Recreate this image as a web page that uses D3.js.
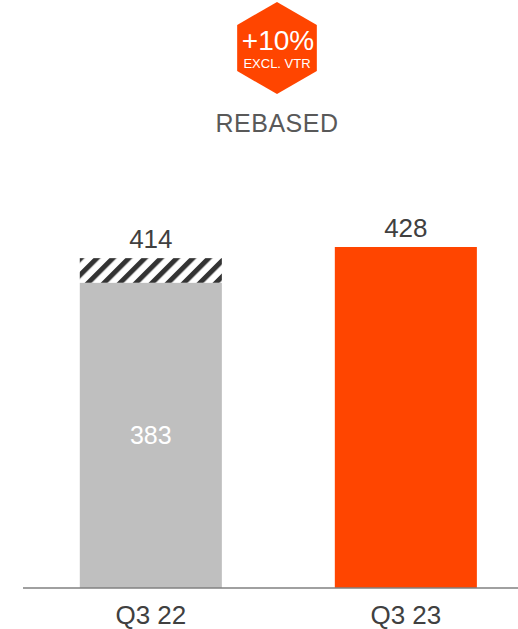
<!DOCTYPE html>
<html>
<head>
<meta charset="utf-8">
<script src="https://cdn.jsdelivr.net/npm/d3@7"></script>
<style>
  html, body { margin: 0; padding: 0; background: #fff; }
  svg { display: block; font-family: "Liberation Sans", Arial, sans-serif; }
</style>
</head>
<body>
<svg id="chart" width="518" height="629"></svg>
<script>
const categories = ["Q3 22", "Q3 23"];
const totals = [414, 428];
const baseValues = [383, null];
const barColors = ["#bfbfbf", "#ff4500"];
const badgeMain = "+10%";
const badgeSub = "EXCL. VTR";
const subtitle = "REBASED";

const svg = d3.select("#chart");
const axisY = 588;

const x = d3.scaleBand()
  .domain(categories)
  .range([23, 518])
  .paddingInner(0.443)
  .paddingOuter(0.192)
  .align(0.58);

const y = d3.scaleLinear().domain([0, 428]).range([axisY, 247]);

// hatch pattern
const defs = svg.append("defs");
const pat = defs.append("pattern")
  .attr("id", "hatch")
  .attr("patternUnits", "userSpaceOnUse")
  .attr("width", 11.3)
  .attr("height", 11.3)
  .attr("patternTransform", "rotate(45)");
pat.append("rect").attr("width", 11.3).attr("height", 11.3).attr("fill", "#fff");
pat.append("rect").attr("x", 0).attr("width", 5).attr("height", 11.3).attr("fill", "#333");

// badge hexagon
const cx = 277, cy = 48, r = 46;
const hexPts = d3.range(6).map(i => {
  const a = Math.PI / 180 * (60 * i - 90);
  return [cx + r * Math.cos(a), cy + r * Math.sin(a)];
});
svg.append("polygon")
  .attr("points", hexPts.map(p => p.join(",")).join(" "))
  .attr("fill", "#ff4500");
svg.append("text")
  .attr("x", cx + 1).attr("y", 50)
  .attr("text-anchor", "middle")
  .attr("font-size", 28)
  .attr("fill", "#fff")
  .text(badgeMain);
svg.append("text")
  .attr("x", cx).attr("y", 68)
  .attr("text-anchor", "middle")
  .attr("font-size", 13)
  .attr("fill", "#fff")
  .text(badgeSub);

svg.append("text")
  .attr("x", cx).attr("y", 132)
  .attr("text-anchor", "middle")
  .attr("font-size", 25)
  .attr("fill", "#595959")
  .attr("letter-spacing", 0.5)
  .text(subtitle);

// bars
categories.forEach((c, i) => {
  const bx = x(c), bw = x.bandwidth();
  const base = baseValues[i];
  if (base != null) {
    svg.append("rect")
      .attr("x", bx).attr("y", y(totals[i]))
      .attr("width", bw).attr("height", y(base) - y(totals[i]))
      .attr("fill", "url(#hatch)");
    svg.append("rect")
      .attr("x", bx).attr("y", y(base))
      .attr("width", bw).attr("height", y(0) - y(base))
      .attr("fill", barColors[i]);
    svg.append("text")
      .attr("x", bx + bw / 2)
      .attr("y", (y(base) + y(0)) / 2 + 8.5)
      .attr("text-anchor", "middle")
      .attr("font-size", 25)
      .attr("fill", "#fff")
      .text(base);
  } else {
    svg.append("rect")
      .attr("x", bx).attr("y", y(totals[i]))
      .attr("width", bw).attr("height", y(0) - y(totals[i]))
      .attr("fill", barColors[i]);
  }
  svg.append("text")
    .attr("x", bx + bw / 2)
    .attr("y", y(totals[i]) - 10.5)
    .attr("text-anchor", "middle")
    .attr("font-size", 26)
    .attr("fill", "#404040")
    .text(totals[i]);
});

// axis
const axis = svg.append("g")
  .attr("transform", `translate(0,${axisY})`)
  .call(d3.axisBottom(x).tickSize(0).tickPadding(0));
axis.select(".domain").attr("stroke", "#808080").attr("stroke-width", 1.5)
  .attr("d", "M23,0H518");
axis.selectAll(".tick text")
  .attr("font-size", 26)
  .attr("font-family", "Liberation Sans, Arial, sans-serif")
  .attr("fill", "#404040")
  .attr("dy", null)
  .attr("y", 36);
</script>
</body>
</html>
